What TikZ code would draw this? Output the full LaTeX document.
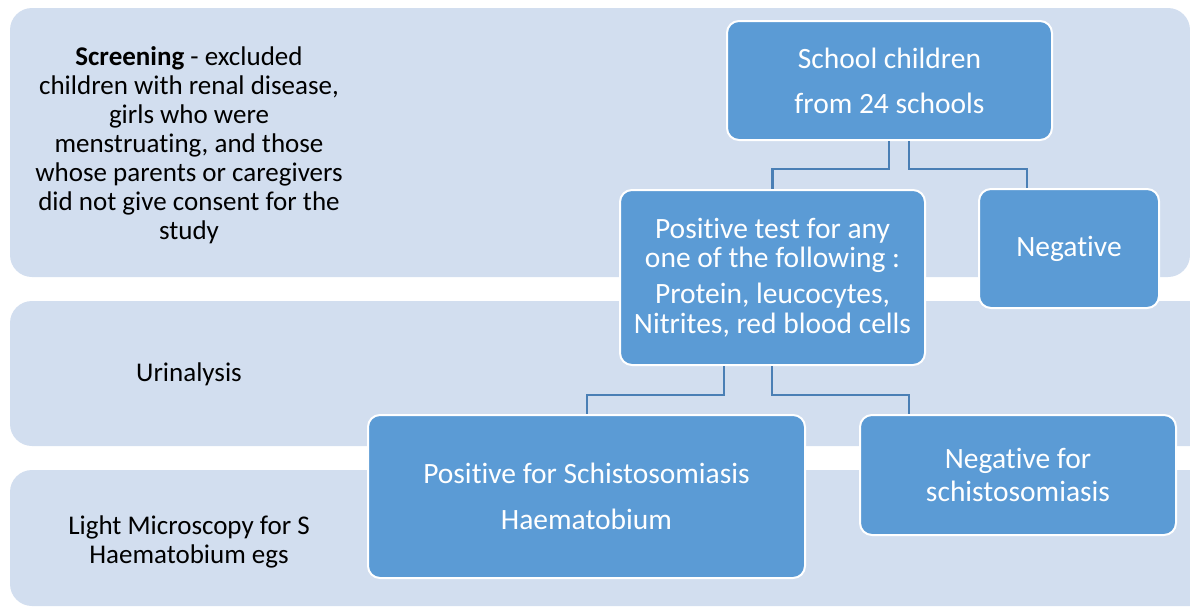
\documentclass[tikz,border=0pt]{standalone}
\usepackage{fontspec}
\setmainfont[Ligatures=NoCommon]{Carlito}
\usetikzlibrary{positioning}
\definecolor{band}{HTML}{D2DEEF}
\definecolor{boxfill}{HTML}{5B9BD5}
\definecolor{conn}{HTML}{4A7FB5}
\tikzset{
  bandshape/.style={fill=band, rounded corners=22pt},
  bluebox/.style={draw=white, line width=2pt, fill=boxfill, rounded corners=12pt, text=white, align=center, inner sep=0pt, font=\fontsize{29.5}{30}\selectfont},
  lbl/.style={align=center, text=black, font=\fontsize{27}{29}\selectfont, inner sep=0pt},
  connector/.style={draw=conn, line width=2.8pt}
}
\begin{document}
\begin{tikzpicture}[x=1pt,y=-1pt]
\useasboundingbox (0,0) rectangle (1190,608);
\begin{scope}
\clip (0,0) rectangle (1190,608);
\fill[bandshape] (10,8) rectangle (1190,277);
\fill[bandshape] (10,301) rectangle (1215,446);
\fill[bandshape] (10,470) rectangle (1215,606);
\end{scope}
\node[lbl] (l1) at (189,145) {\textbf{Screening} - excluded\\children with renal disease,\\girls who were\\menstruating, and those\\whose parents or caregivers\\did not give consent for the\\study};
\node[lbl] (l2) at (189,374) {Urinalysis};
\node[lbl] (l3) at (189,542) {Light Microscopy for S\\Haematobium egs};

\node[bluebox, minimum width=325pt, minimum height=119pt] (sc) at (889.5,80.5) {School children\\[15pt]from 24 schools};
\node[bluebox, minimum width=305pt, minimum height=175pt] (pt) at (772.5,277.5) {Positive test for any\\[-1pt]one of the following :\\[6pt]Protein, leucocytes,\\Nitrites, red blood cells};
\node[bluebox, minimum width=180pt, minimum height=119pt] (neg) at (1069,248.5) {Negative};
\node[bluebox, minimum width=437pt, minimum height=163pt] (pos) at (586.5,496.5) {Positive for Schistosomiasis\\[16pt]Haematobium};
\node[bluebox, minimum width=316pt, minimum height=120pt] (negs) at (1018,475) {Negative for\\[3pt]schistosomiasis};

\draw[connector] ([xshift=-0.5pt]sc.south) -- ++(0,28) -| (pt.north);
\draw[connector] ([xshift=19.5pt]sc.south) -- ++(0,28) -| ([xshift=-42pt]neg.north);
\draw[connector] ([xshift=-48.5pt]pt.south) -- ++(0,29) -| ([xshift=0.5pt]pos.north);
\draw[connector] ([xshift=-0.5pt]pt.south) -- ++(0,29) -| ([xshift=-109pt]negs.north);
\end{tikzpicture}
\end{document}
